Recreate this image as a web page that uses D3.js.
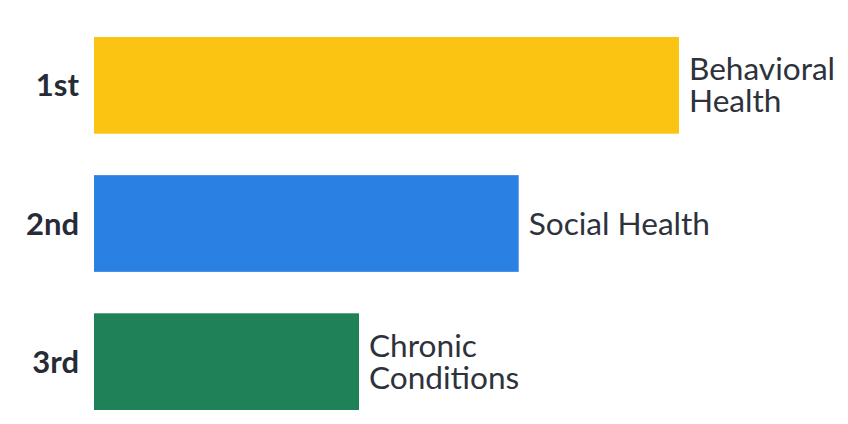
<!DOCTYPE html>
<html>
<head>
<meta charset="utf-8">
<script src="https://cdn.jsdelivr.net/npm/d3@7"></script>
<style>
  html, body { margin: 0; padding: 0; background: #ffffff; }
  svg { display: block; }
</style>
</head>
<body>
<svg id="chart" width="848" height="424"></svg>
<script>
// Ranked priority areas
const ranks = ["1st", "2nd", "3rd"];
const categories = [["Behavioral", "Health"], ["Social Health"], ["Chronic", "Conditions"]];
const values = [100, 72.6, 45.3];
const colors = ["#FBC413", "#2B80E3", "#1E8157"];

const width = 848, height = 424;
const margin = { top: 37, right: 169, bottom: 14, left: 94 };

const svg = d3.select("#chart");

const x = d3.scaleLinear()
  .domain([0, 100])
  .range([margin.left, width - margin.right]);

const y = d3.scaleBand()
  .domain(ranks)
  .range([margin.top, height - margin.bottom])
  .paddingInner(0.3)
  .paddingOuter(0);

const rows = svg.selectAll("g.row")
  .data(ranks.map((r, i) => ({ rank: r, label: categories[i], value: values[i], color: colors[i] })))
  .join("g")
  .attr("class", "row");

rows.append("rect")
  .attr("x", x(0))
  .attr("y", d => y(d.rank))
  .attr("width", d => x(d.value) - x(0))
  .attr("height", y.bandwidth())
  .attr("fill", d => d.color);

// rank labels on the left
rows.append("text")
  .attr("x", x(0) - 15)
  .attr("y", d => y(d.rank) + y.bandwidth() / 2 + 11)
  .attr("text-anchor", "end")
  .attr("font-family", "Lato, sans-serif")
  .attr("font-weight", 700)
  .attr("font-size", 31)
  .attr("fill", "#262b36")
  .text(d => d.rank);

// category labels at bar ends, one text element per line
const lineH = 32;
rows.each(function(d) {
  const g = d3.select(this);
  const n = d.label.length;
  const cy = y(d.rank) + y.bandwidth() / 2;
  g.selectAll("text.cat")
    .data(d.label)
    .join("text")
    .attr("class", "cat")
    .attr("x", x(d.value) + 10)
    .attr("y", (line, j) => cy + (j - (n - 1) / 2) * lineH + 11)
    .attr("font-family", "Lato, sans-serif")
    .attr("font-size", 31.6)
    .attr("fill", "#2d323c")
    .text(line => line);
});
</script>
</body>
</html>
